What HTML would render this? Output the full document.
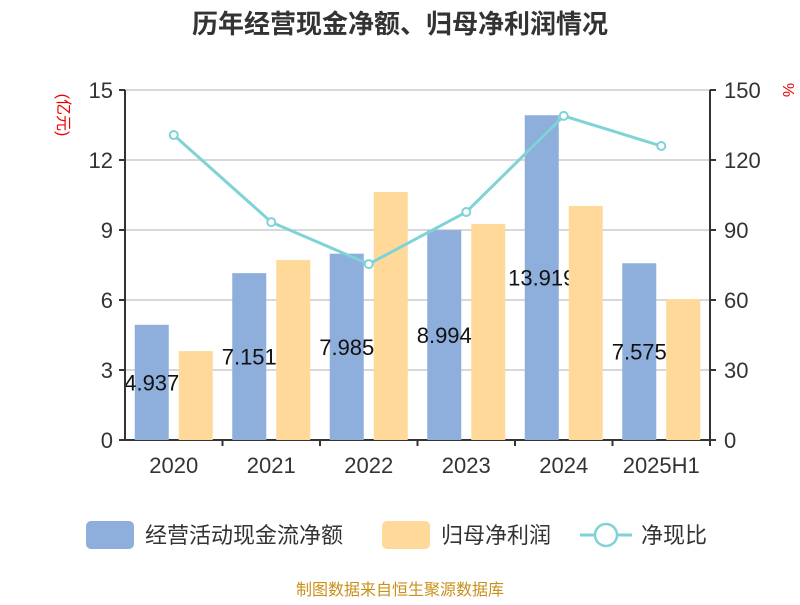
<!DOCTYPE html>
<html><head><meta charset="utf-8"><style>
body{margin:0;background:#fff;}
svg text{font-family:"Liberation Sans","Noto Sans CJK SC",sans-serif;}
</style></head><body>
<svg id="c" width="800" height="600" xmlns="http://www.w3.org/2000/svg">
<text x="400" y="33" text-anchor="middle" font-size="26" font-weight="bold" fill="#333">历年经营现金净额、归母净利润情况</text>
<text transform="translate(58,115) rotate(90)" text-anchor="middle" font-size="16" fill="#e00">(亿元)</text>
<text transform="translate(783,90) rotate(90)" text-anchor="middle" font-size="16" fill="#e00">%</text>
<g id="grid"></g><g id="bars1"></g><g id="labels"></g><g id="bars2"></g><g id="axes"></g><g id="line"></g>
<g>
<rect x="86" y="521" width="48" height="28" rx="5" fill="#8eaedb"/>
<text x="145" y="543" font-size="22" fill="#333">经营活动现金流净额</text>
<rect x="382" y="521" width="48" height="28" rx="5" fill="#ffd99a"/>
<text x="441" y="543" font-size="22" fill="#333">归母净利润</text>
<line x1="580" y1="535" x2="632" y2="535" stroke="#7fd3d6" stroke-width="3"/>
<circle cx="606" cy="535" r="11" fill="#fff" stroke="#7fd3d6" stroke-width="2.5"/>
<text x="641" y="543" font-size="22" fill="#333">净现比</text>
</g>
<text x="400" y="595" text-anchor="middle" font-size="16" fill="#c9901a">制图数据来自恒生聚源数据库</text>
</svg>
<script>
const categories=["2020","2021","2022","2023","2024","2025H1"];
const cashflow=[4.937,7.151,7.985,8.994,13.919,7.575];
const profit=[3.81,7.71,10.63,9.26,10.03,6.04];
const ratio=[130.7,93.4,75.4,97.7,138.9,126];
const leftTicks=[0,3,6,9,12,15];
const rightTicks=[0,30,60,90,120,150];
const NS="http://www.w3.org/2000/svg";
const x0=125,x1=710,yTop=90,yBot=440;
const bw=(x1-x0)/categories.length;
const yL=v=>yBot-(v/15)*(yBot-yTop);
const yR=v=>yBot-(v/150)*(yBot-yTop);
function mk(tag,attrs,parent,txt){const e=document.createElementNS(NS,tag);for(const k in attrs)e.setAttribute(k,attrs[k]);if(txt!==undefined)e.textContent=txt;document.getElementById(parent).appendChild(e);return e;}
leftTicks.forEach((t,i)=>{
 const y=yL(t);
 const g=mk('line',{x1:x0,x2:x1,y1:y,y2:y,stroke:i===0?'#333':'#ccc','stroke-width':i===0?2:1.5},'grid');
 
 
 const tk=mk('line',{x1:x0-6,x2:x0,y1:y,y2:y,stroke:'#333','stroke-width':2},'axes');
 
 
 const lt=mk('text',{x:x0-12,y:y+8,'text-anchor':'end','font-size':22,fill:'#333'},'axes',String(t));
 
 
});
rightTicks.forEach(t=>{
 const y=yR(t);
 const tk=mk('line',{x1:x1,x2:x1+6,y1:y,y2:y,stroke:'#333','stroke-width':2},'axes');
 
 
 const rt=mk('text',{x:x1+14,y:y+8,'font-size':22,fill:'#333'},'axes',String(t));
 
 
});
const la=mk('line',{x1:x0,x2:x0,y1:yTop,y2:yBot,stroke:'#333','stroke-width':2},'axes');


const ra=mk('line',{x1:x1,x2:x1,y1:yTop,y2:yBot,stroke:'#333','stroke-width':2},'axes');


const pts=[];
categories.forEach((c,i)=>{
 const cx=x0+bw*(i+0.5);
 const xt=mk('line',{x1:x0+bw*(i+1),x2:x0+bw*(i+1),y1:yBot,y2:yBot+6,stroke:'#333','stroke-width':2},'axes');
 
 
 const xl=mk('text',{x:cx,y:yBot+33,'text-anchor':'middle','font-size':22,fill:'#333'},'axes',c);
 
 
 const bx=cx-39;
 const b1=mk('rect',{x:bx,y:yL(cashflow[i]),width:34,height:yBot-yL(cashflow[i]),fill:'#8eaedb'},'bars1');
 
 
 const lb=mk('text',{x:bx+17,y:(yL(cashflow[i])+yBot)/2+8,'text-anchor':'middle','font-size':22,fill:'#111'},'labels',cashflow[i].toFixed(3));
 
 
 const b2=mk('rect',{x:cx+5,y:yL(profit[i]),width:34,height:yBot-yL(profit[i]),fill:'#ffd99a'},'bars2');
 
 
 pts.push([cx,yR(ratio[i])]);
});
const pl=mk('polyline',{points:pts.map(p=>p.join(',')).join(' '),fill:'none',stroke:'#7fd3d6','stroke-width':3},'line');


pts.forEach(p=>{
 const cc=mk('circle',{cx:p[0],cy:p[1],r:4,fill:'#fff',stroke:'#7fd3d6','stroke-width':2},'line');
 
 
});
</script>
</body></html>
